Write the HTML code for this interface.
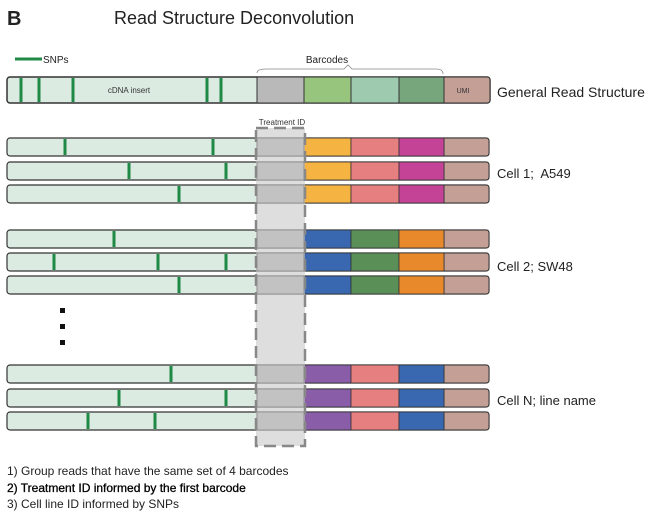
<!DOCTYPE html>
<html><head><style>
body{margin:0;background:#fff;}
svg{display:block;font-family:"Liberation Sans",Arial,sans-serif;}
</style></head><body>
<svg width="651" height="516" viewBox="0 0 651 516">
<text x="7" y="25" font-size="20" font-weight="bold" fill="#222">B</text>
<text x="114" y="24" font-size="18" fill="#222">Read Structure Deconvolution</text>
<line x1="15" y1="59" x2="42" y2="59" stroke="#1e8a45" stroke-width="3"/>
<text x="43" y="63" font-size="10" fill="#222">SNPs</text>
<text x="327" y="63" font-size="10" fill="#222" text-anchor="middle">Barcodes</text>
<path d="M257,73 Q257,69 266,69 L344,69 L348,65 L352,69 L436,69 Q443,69 443,74" fill="none" stroke="#888" stroke-width="0.8"/>
<g stroke="#333" stroke-width="1">
<rect x="7" y="77" width="483" height="26" rx="3" fill="#dcebe2" stroke-width="1.5"/>
<rect x="257" y="77" width="47" height="26" fill="#b9b9b9"/>
<rect x="304" y="77" width="47" height="26" fill="#97c57e"/>
<rect x="351" y="77" width="48" height="26" fill="#9ecbb0"/>
<rect x="399" y="77" width="45" height="26" fill="#78a67c"/>
<path d="M444,77 H487 Q490,77 490,80 V100 Q490,103 487,103 H444 Z" fill="#c39f96"/>
</g>
<g stroke="#1e8a45" stroke-width="3">
<line x1="21" y1="78" x2="21" y2="102"/><line x1="39" y1="78" x2="39" y2="102"/><line x1="73" y1="78" x2="73" y2="102"/><line x1="207" y1="78" x2="207" y2="102"/><line x1="221" y1="78" x2="221" y2="102"/>
</g>
<text x="129" y="93" font-size="8" fill="#333" text-anchor="middle">cDNA insert</text>
<text x="463" y="93" font-size="7" fill="#333" text-anchor="middle">UMI</text>
<text x="497" y="97" font-size="14" fill="#222">General Read Structure</text>
<text x="282" y="125" font-size="8" fill="#333" text-anchor="middle">Treatment ID</text>

<defs>
<g id="row">
<rect x="7" y="0" width="482" height="18" rx="3" fill="#dcebe2" stroke="#333" stroke-width="1.2"/>
<rect x="257" y="0" width="47" height="18" fill="#b9b9b9" stroke="#333" stroke-width="0.8"/>
<path d="M444,0 H486 Q489,0 489,3 V15 Q489,18 486,18 H444 Z" fill="#c39f96" stroke="#333" stroke-width="1"/>
</g>
</defs>

<g>
<use href="#row" y="138"/><use href="#row" y="162"/><use href="#row" y="185"/>
<use href="#row" y="230"/><use href="#row" y="253"/><use href="#row" y="276"/>
<use href="#row" y="365"/><use href="#row" y="389"/><use href="#row" y="412"/>
</g>
<g stroke="#333" stroke-width="0.8">
<g fill="#f5b342"><rect x="304" y="138" width="47" height="18"/><rect x="304" y="162" width="47" height="18"/><rect x="304" y="185" width="47" height="18"/></g>
<g fill="#e57f80"><rect x="351" y="138" width="48" height="18"/><rect x="351" y="162" width="48" height="18"/><rect x="351" y="185" width="48" height="18"/></g>
<g fill="#c44396"><rect x="399" y="138" width="45" height="18"/><rect x="399" y="162" width="45" height="18"/><rect x="399" y="185" width="45" height="18"/></g>
<g fill="#3a68b0"><rect x="304" y="230" width="47" height="18"/><rect x="304" y="253" width="47" height="18"/><rect x="304" y="276" width="47" height="18"/></g>
<g fill="#5a8f58"><rect x="351" y="230" width="48" height="18"/><rect x="351" y="253" width="48" height="18"/><rect x="351" y="276" width="48" height="18"/></g>
<g fill="#e8892c"><rect x="399" y="230" width="45" height="18"/><rect x="399" y="253" width="45" height="18"/><rect x="399" y="276" width="45" height="18"/></g>
<g fill="#8a5da8"><rect x="304" y="365" width="47" height="18"/><rect x="304" y="389" width="47" height="18"/><rect x="304" y="412" width="47" height="18"/></g>
<g fill="#e57f80"><rect x="351" y="365" width="48" height="18"/><rect x="351" y="389" width="48" height="18"/><rect x="351" y="412" width="48" height="18"/></g>
<g fill="#3a68b0"><rect x="399" y="365" width="45" height="18"/><rect x="399" y="389" width="45" height="18"/><rect x="399" y="412" width="45" height="18"/></g>
</g>
<g stroke="#1e8a45" stroke-width="3">
<line x1="65" y1="139" x2="65" y2="155"/><line x1="213" y1="139" x2="213" y2="155"/>
<line x1="129" y1="163" x2="129" y2="179"/><line x1="226" y1="163" x2="226" y2="179"/>
<line x1="179" y1="186" x2="179" y2="202"/>
<line x1="114" y1="231" x2="114" y2="247"/>
<line x1="54" y1="254" x2="54" y2="270"/><line x1="158" y1="254" x2="158" y2="270"/><line x1="226" y1="254" x2="226" y2="270"/>
<line x1="179" y1="277" x2="179" y2="293"/>
<line x1="171" y1="366" x2="171" y2="382"/>
<line x1="119" y1="390" x2="119" y2="406"/><line x1="226" y1="390" x2="226" y2="406"/>
<line x1="88" y1="413" x2="88" y2="429"/><line x1="155" y1="413" x2="155" y2="429"/>
</g>
<rect x="256" y="128" width="49" height="318" fill="#c8c8c8" fill-opacity="0.6" stroke="#888" stroke-width="2.5" stroke-dasharray="12,6"/>

<text x="497" y="178" font-size="13" fill="#222">Cell 1;&#160; A549</text>
<text x="497" y="271" font-size="13" fill="#222">Cell 2; SW48</text>
<text x="497" y="405" font-size="13" fill="#222">Cell N; line name</text>
<rect x="60" y="308" width="5" height="5" fill="#111"/>
<rect x="60" y="324" width="5" height="5" fill="#111"/>
<rect x="60" y="340" width="5" height="5" fill="#111"/>
<text x="7" y="475" font-size="12" fill="#222">1) Group reads that have the same set of 4 barcodes</text>
<text x="7" y="492" font-size="12" fill="#000" stroke="#000" stroke-width="0.3">2) Treatment ID informed by the first barcode</text>
<text x="7" y="508" font-size="12" fill="#222">3) Cell line ID informed by SNPs</text>
</svg>
</body></html>
